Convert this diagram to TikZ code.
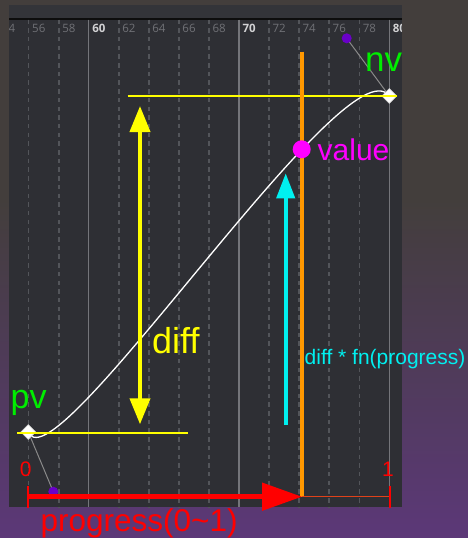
\documentclass[tikz,border=0pt]{standalone}
\usepackage{fontspec}
\setmainfont{Liberation Sans}
\newfontfamily\uifont{Open Sans}
\usetikzlibrary{arrows.meta,shapes.geometric}
\definecolor{bgtop}{HTML}{433E3C}
\definecolor{bgbot}{HTML}{5C3878}
\definecolor{panelc}{HTML}{2E2F34}
\definecolor{stripc}{HTML}{333439}
\definecolor{minorc}{HTML}{53555A}
\definecolor{majorc}{HTML}{74757A}
\definecolor{minorlab}{HTML}{707176}
\definecolor{majorlab}{HTML}{D2D2D4}
\definecolor{greenc}{HTML}{00EE00}
\definecolor{purplec}{HTML}{6A00C8}
\definecolor{orangec}{HTML}{FF9800}
\definecolor{redthin}{HTML}{E0421A}
\definecolor{handlec}{HTML}{8A8A8A}
\definecolor{cyanc}{HTML}{00F0F0}
\definecolor{magc}{HTML}{FF00FF}
\definecolor{yelc}{HTML}{FFFF00}
\definecolor{redc}{HTML}{FF0000}
\tikzset{
  keydiamond/.style={diamond, aspect=1, minimum width=15pt, minimum height=15pt, inner sep=0pt, fill=white, draw=gray!50, line width=0.4pt},
  handledot/.style={circle, fill=purplec, minimum size=10pt, inner sep=0pt},
  handleline/.style={draw=handlec, line width=1pt},
  yline/.style={draw=yelc, line width=2pt},
  bigtext/.style={inner sep=0pt, anchor=base west},
  gridlab/.style={inner sep=0pt, anchor=west, font=\uifont\fontsize{11.5}{12}\selectfont}
}
\begin{document}
\begin{tikzpicture}[x=1pt,y=-1pt]
\useasboundingbox (0,0) rectangle (468,538);
% background
\fill[bgtop] (0,0) rectangle (468,538);
\shade[top color=bgtop, bottom color=bgbot] (0,200) rectangle (468,538);
% panel
\fill[panelc] (9,5) rectangle (401.7,507);
\fill[stripc] (9,5) rectangle (401.7,17.5);
\draw[black!95, line width=2pt] (9,18.5) -- (401.7,18.5);
% grid
\begin{scope}
\clip (9,5) rectangle (401.7,507);
\foreach \k in {-1,...,12}{
  \pgfmathsetmacro\gx{28.7+30.05*\k}
  \pgfmathtruncatemacro\gv{56+2*\k}
  \pgfmathtruncatemacro\ismajor{mod(\gv,10)==0 ? 1 : 0}
  \ifnum\ismajor=1
    \draw[majorc, line width=1.2pt] (\gx,19.5) -- (\gx,507);
    \node[gridlab, text=majorlab, font=\uifont\bfseries\fontsize{11.5}{12}\selectfont] at (\gx+3.3,28.5) {\gv};
  \else
    \draw[minorc, line width=1.5pt, dash pattern=on 4.5pt off 4.2pt] (\gx,19.5) -- (\gx,507);
    \node[gridlab, text=minorlab] at (\gx+3.3,28.5) {\gv};
  \fi
}
\end{scope}
% keys and handles
\node[keydiamond] (pv) at (28.3,432) {};
\node[keydiamond] (nv) at (389.3,96) {};
\coordinate (h1) at (53.3,491.7);
\coordinate (h2) at (346.7,38.3);
\draw[handleline] (pv.center) -- (h1);
\draw[handleline] (nv.center) -- (h2);
\draw[white!92, line width=1.3pt] (pv.center) .. controls (h1) and (h2) .. (nv.center);
\node[keydiamond] at (pv) {};
\node[keydiamond] at (nv) {};
\node[handledot] (h1dot) at (h1) {};
\node[handledot] (h2dot) at (h2) {};
% yellow level lines
\coordinate (ytopL) at (127.7,96);
\coordinate (ytopR) at (396.7,96);
\coordinate (ybotL) at (17.3,432.7);
\coordinate (ybotR) at (187.7,432.7);
\draw[yline] (ytopL) -- (ytopR);
\draw[yline] (ybotL) -- (ybotR);
% diff arrow
\coordinate (da) at (140,106);
\coordinate (db) at (140,424.3);
\draw[yelc, line width=4pt, {Triangle[length=26pt,width=20pt]}-{Triangle[length=26pt,width=20pt]}] (da) -- (db);
% cyan arrow
\coordinate (ca) at (285.7,425);
\coordinate (cb) at (285.7,173.3);
\draw[cyanc, line width=4pt, -{Triangle[length=25pt,width=18pt]}] (ca) -- (cb);
% orange progress line
\coordinate (oa) at (302.3,51.7);
\coordinate (ob) at (302.3,497);
\draw[orangec, line width=4pt] (oa) -- (ob);
% value dot
\node[circle, fill=magc, minimum size=18pt, inner sep=0pt] (value) at (301.7,149.3) {};
% progress axis
\coordinate (p0) at (28.3,496.7);
\coordinate (ptip) at (302,496.7);
\coordinate (p1) at (388.5,496.7);
\coordinate (t0a) at (28.3,486);
\coordinate (t0b) at (28.3,508.3);
\coordinate (t1a) at (390,486);
\coordinate (t1b) at (390,508.3);
\draw[redthin, line width=1.5pt] (ptip) -- (p1);
\draw[redc, line width=5pt, -{Triangle[length=40pt,width=27pt]}] (p0) -- (ptip);
\draw[redc, line width=2pt] (t0a) -- (t0b);
\draw[redc, line width=2pt] (t1a) -- (t1b);
% texts
\node[bigtext, text=greenc, font=\fontsize{35}{35}\selectfont] (nvlab) at (365,71.7) {nv};
\node[bigtext, text=greenc, font=\fontsize{34}{34}\selectfont] (pvlab) at (10.5,408.3) {pv};
\node[bigtext, text=magc, font=\fontsize{30}{30}\selectfont] (valuelab) at (317.5,160) {value};
\node[bigtext, text=yelc, font=\fontsize{36}{36}\selectfont] (difflab) at (152,353.3) {diff};
\node[bigtext, text=cyanc, font=\fontsize{21}{21}\selectfont] (fnlab) at (304.5,364) {diff * fn(progress)};
\node[bigtext, text=redc, font=\fontsize{31.5}{31.5}\selectfont] (proglab) at (40.5,531.7) {progress(0\char"007E 1)};
\node[inner sep=0pt, anchor=base, text=redc, font=\fontsize{21}{21}\selectfont] (zerolab) at (25.8,476.7) {0};
\node[inner sep=0pt, anchor=base, text=redc, font=\fontsize{21}{21}\selectfont] (onelab) at (388,476.7) {1};
\end{tikzpicture}
\end{document}
